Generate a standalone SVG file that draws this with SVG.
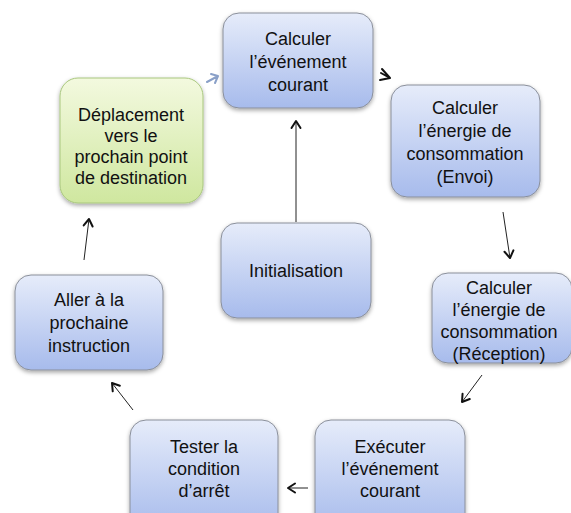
<svg xmlns="http://www.w3.org/2000/svg" width="571" height="513" viewBox="0 0 571 513">
<style>
.box{fill:url(#gb);stroke:#8a8f9a;stroke-width:1;filter:url(#sh)}
.gbox{fill:url(#gg);stroke:#a9c77e;stroke-width:1;filter:url(#sh)}
text{font-family:"Liberation Sans",Arial,sans-serif;font-size:18px;fill:#111;text-anchor:middle}
.c{fill:none;stroke:#222;stroke-width:1}
.h{fill:none;stroke:#111;stroke-width:2;stroke-linecap:round;stroke-linejoin:round}
</style>
<defs>
<linearGradient id="gb" x1="0" y1="0" x2="0" y2="1">
<stop offset="0" stop-color="#e6ecfa"/><stop offset="1" stop-color="#a7bbec"/>
</linearGradient>
<linearGradient id="gg" x1="0" y1="0" x2="0" y2="1">
<stop offset="0" stop-color="#f3f9df"/><stop offset="1" stop-color="#cfe79f"/>
</linearGradient>
<filter id="sh" x="-10%" y="-10%" width="120%" height="130%">
<feDropShadow dx="0" dy="2" stdDeviation="2" flood-color="#000" flood-opacity="0.35"/>
</filter>
<marker id="ah" viewBox="0 0 12 12" refX="10" refY="6" markerWidth="12" markerHeight="12" markerUnits="userSpaceOnUse" orient="auto">
<path d="M3,1.5 L10,6 L3,10.5" class="h"/>
</marker>
</defs>
<rect width="571" height="513" fill="#fff"/>
<g id="connectors">
<line class="c" x1="296" y1="222" x2="296" y2="121" marker-end="url(#ah)"/>
<line class="c" x1="503" y1="212" x2="510" y2="258" marker-end="url(#ah)"/>
<line class="c" x1="482" y1="375" x2="462" y2="402" marker-end="url(#ah)"/>
<line class="c" x1="308" y1="488" x2="288" y2="488" marker-end="url(#ah)"/>
<line class="c" x1="133" y1="410" x2="112" y2="383" marker-end="url(#ah)"/>
<line class="c" x1="84" y1="260" x2="89" y2="219" marker-end="url(#ah)"/>
<path d="M381,73 L390,78 M382,69 L390,78 L380,80" fill="none" stroke="#111" stroke-width="2" stroke-linecap="round" stroke-linejoin="round"/>
<path d="M207,82 L218,76 M211,74 L218,76 L215,83" fill="none" stroke="#8aa0c8" stroke-width="2" stroke-linecap="round" stroke-linejoin="round"/>
</g>
<g id="n1">
<rect class="box" x="223" y="13" width="150" height="95" rx="16"/>
<text x="298" y="45">Calculer</text>
<text x="298" y="68">l’événement</text>
<text x="298" y="91">courant</text>
</g>
<g id="n2">
<rect class="box" x="391" y="85" width="149" height="112" rx="16"/>
<text x="465" y="114">Calculer</text>
<text x="465" y="137">l’énergie de</text>
<text x="465" y="160">consommation</text>
<text x="465" y="183">(Envoi)</text>
</g>
<g id="n3">
<rect class="box" x="432" y="273" width="140" height="90" rx="16"/>
<text x="499" y="294">Calculer</text>
<text x="499" y="316">l’énergie de</text>
<text x="499" y="338">consommation</text>
<text x="499" y="360">(Réception)</text>
</g>
<g id="n4">
<rect class="box" x="315" y="420" width="150" height="110" rx="16"/>
<text x="390" y="453">Exécuter</text>
<text x="390" y="475">l’événement</text>
<text x="390" y="497">courant</text>
</g>
<g id="n5">
<rect class="box" x="130" y="420" width="148" height="110" rx="16"/>
<text x="204" y="453">Tester la</text>
<text x="204" y="475">condition</text>
<text x="204" y="497">d’arrêt</text>
</g>
<g id="n6">
<rect class="box" x="15" y="275" width="148" height="95" rx="16"/>
<text x="89" y="306">Aller à la</text>
<text x="89" y="329">prochaine</text>
<text x="89" y="352">instruction</text>
</g>
<g id="n7">
<rect class="gbox" x="60" y="78" width="143" height="125" rx="18"/>
<text x="131" y="121">Déplacement</text>
<text x="131" y="142">vers le</text>
<text x="131" y="163">prochain point</text>
<text x="131" y="184">de destination</text>
</g>
<g id="n8">
<rect class="box" x="221" y="223" width="150" height="95" rx="16"/>
<text x="296" y="277">Initialisation</text>
</g>
</svg>
